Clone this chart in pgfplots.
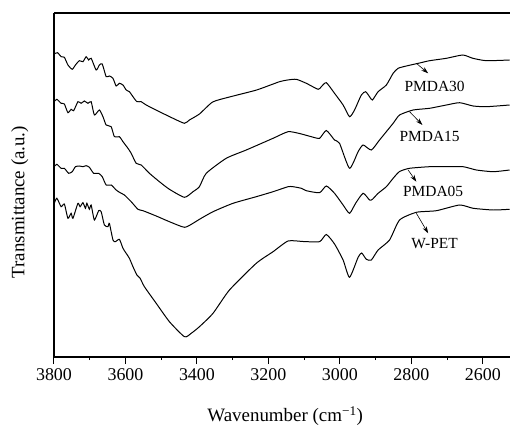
\documentclass[border=0pt]{standalone}
\usepackage{fontspec}
\setmainfont{Liberation Serif}
\usepackage{pgfplots}
\pgfplotsset{compat=1.18}
\usetikzlibrary{arrows.meta}
\tikzset{spec/.style={black,line width=1pt,smooth,tension=0.35}}

\begin{document}
\begin{tikzpicture}
\begin{axis}[
  scale only axis,
  width=456bp, height=344bp,
  x dir=reverse,
  xmin=2524, xmax=3800,
  ymin=68, ymax=412,
  axis x line*=box,
  axis y line*=left,
  xtick={2600,2800,...,3800},
  minor xtick={2700,2900,...,3700},
  xtick pos=bottom,
  xtick align=outside,
  ytick=\empty,
  minor ytick={88,108.3,128.5,148.8,169.1,189.3,209.6,229.9,250.1,270.4,290.7,310.9,331.2,351.5,371.7,392},
  ytick align=inside,
  major tick length=7bp,
  minor tick length=3bp,
  axis line style={line width=1.2pt},
  tick style={line width=1pt,black},
  /pgf/number format/assume math mode=true,
  /pgf/number format/1000 sep={},
  tick label style={font=\fontsize{18}{20}\selectfont},
  xticklabel style={yshift=-1bp},
  xlabel={Wavenumber (cm\textsuperscript{−1})},
  ylabel={Transmittance (a.u.)},
  label style={font=\fontsize{19}{22}\selectfont},
  xlabel style={at={(axis description cs:0.507,-0.172)},anchor=center},
  ylabel style={at={(axis description cs:-0.075,0.45)},anchor=center},
]
% PMDA30
\addplot[spec] coordinates {
(3800,371) (3790,372.3) (3780,368.3) (3771,367.7) (3761,360) (3749,355.7) (3740,360)
(3729,364.3) (3719,363.3) (3710,368.3) (3703,365) (3696,366.7) (3682,355) (3673,360)
(3665,361) (3654,348.3) (3645,349) (3635,346.7) (3626,339) (3617,341.7) (3607,340)
(3598,335) (3589,333.3) (3579,328.3) (3568,323.3) (3556,323.3) (3542,320) (3505,313.3)
(3467,306.7) (3435,301.7) (3421,305) (3393,311) (3356,323) (3309,328) (3233,335)
(3169,343.3) (3146,345) (3122,345.7) (3094,341.7) (3061,335.7) (3052,338.3) (3038,342.3)
(3015,331.7) (2991,320) (2973,308.3) (2959,315) (2940,330) (2928,333.3) (2917,328.3)
(2909,325) (2893,333.3) (2870,340) (2851,351.7) (2837,356.7) (2814,359) (2777,362)
(2749,364.3) (2702,366.7) (2656,370) (2628,366.7) (2590,364.3) (2525,365)
};
% PMDA15
\addplot[spec] coordinates {
(3800,323.3) (3792,325.7) (3780,321.7) (3771,321) (3761,312.3) (3752,315.7) (3745,314.3)
(3733,323.3) (3724,321.7) (3715,324) (3705,321.7) (3696,323.3) (3687,310) (3673,315)
(3663,308.3) (3654,300) (3640,298.3) (3631,288.3) (3617,288.3) (3607,283.3) (3593,276.7)
(3584,271.7) (3570,261.7) (3556,260) (3533,251.7) (3505,243.3) (3477,235.7) (3435,227.7)
(3411,233.3) (3393,238.3) (3374,251.7) (3318,266.7) (3262,275) (3187,286.7) (3145,293.3)
(3113,291.5) (3080,288.3) (3057,286.7) (3038,294.5) (3015,285) (3001,281.7) (2973,256.7)
(2949,273.3) (2935,280) (2912,275) (2889,285) (2851,301.7) (2833,310) (2795,315)
(2749,316.7) (2702,320) (2665,322.3) (2627,319) (2590,318.3) (2525,320)
};
% PMDA05
\addplot[spec] coordinates {
(3800,258.3) (3792,260.7) (3780,256.7) (3771,256.7) (3759,251.7) (3749,253.3) (3740,258.3)
(3729,259) (3719,258.3) (3710,259.3) (3701,257.7) (3689,251.7) (3675,251.7) (3665,248.3)
(3654,240) (3640,240) (3626,235) (3615,232.3) (3603,230) (3584,223.3) (3565,215.7)
(3551,214.3) (3514,209) (3477,203.3) (3435,197.7) (3411,201.7) (3393,205.7) (3355,213.3)
(3299,221.7) (3234,228.3) (3187,233.3) (3145,238.3) (3131,238.3) (3108,236.7) (3094,234.3)
(3057,232.3) (3038,239) (3015,231.7) (2991,220) (2973,211.7) (2956,221.7) (2935,231.7)
(2917,225) (2909,225.7) (2893,231.7) (2870,238.3) (2851,246.7) (2833,253.5) (2805,256.7)
(2749,258.3) (2702,258.3) (2655,258.3) (2618,255) (2571,253.3) (2525,255)
};
% W-PET
\addplot[spec] coordinates {
(3800,221) (3792,226.7) (3780,218.3) (3771,221) (3761,206.7) (3752,211.7) (3747,206.7)
(3733,221.7) (3727,218.3) (3719,222.3) (3712,216.7) (3708,221.7) (3701,215.7) (3696,220)
(3687,205) (3675,214.3) (3668,213.3) (3659,200) (3649,198.3) (3645,201.7) (3635,185)
(3628,183.3) (3617,185.7) (3607,176.7) (3598,171.7) (3589,166.7) (3579,158.3) (3568,150)
(3559,146.7) (3547,138.3) (3514,121.7) (3477,103.3) (3435,88.3) (3416,91.7) (3393,98.3)
(3355,111.7) (3309,135) (3234,161.7) (3187,173.3) (3145,184) (3103,183.5) (3057,183.3)
(3038,190.5) (3015,181) (2991,165) (2973,147.7) (2949,167.7) (2939,172) (2926,165.7)
(2912,165) (2893,175) (2861,185) (2833,205) (2786,212.7) (2730,214.3) (2665,220)
(2627,216.7) (2571,215) (2525,215.7)
};
\begin{scope}[line width=0.6pt,-{Stealth[length=7bp,width=4.5bp]},
  every node/.style={font=\fontsize{15.5}{17}\selectfont}]
\draw (axis cs:2786,361.7) -- (axis cs:2753,351.7);
\node at (axis cs:2735,338.3) {PMDA30};
\draw (axis cs:2805,313.3) -- (axis cs:2769,300);
\node at (axis cs:2749,288.3) {PMDA15};
\draw (axis cs:2809,255) -- (axis cs:2786,243.3);
\node at (axis cs:2739,233.3) {PMDA05};
\draw (axis cs:2786,211.7) -- (axis cs:2753,191.7);
\node at (axis cs:2735,181) {W-PET};
\end{scope}
\end{axis}
\pgfresetboundingbox
\useasboundingbox (-54bp,-68bp) rectangle (456bp,357bp);
\end{tikzpicture}
\end{document}
